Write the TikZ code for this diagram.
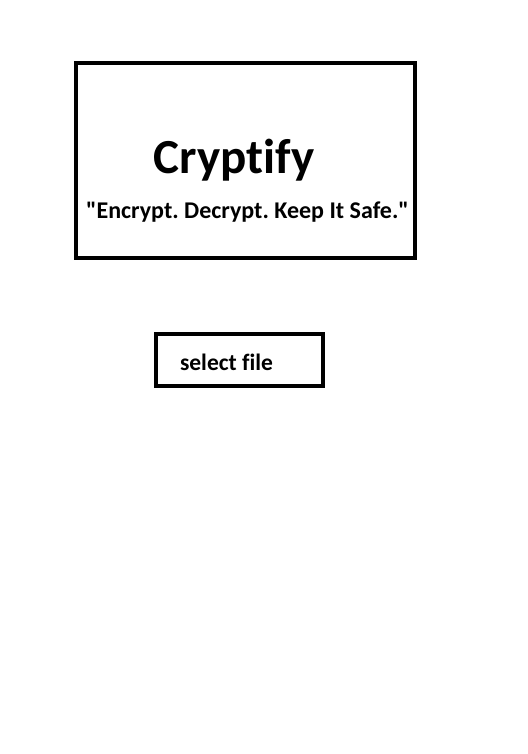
\documentclass[tikz,border=0pt]{standalone}
\usepackage{fontspec}
\setmainfont{Carlito}[Ligatures={TeXOff,NoCommon,NoRequired,NoContextual}]
\frenchspacing
\tikzset{
  panel/.style={draw, line width=4pt, inner sep=0pt},
  title/.style={font=\fontsize{49}{52}\selectfont\bfseries, anchor=base, inner sep=0pt},
  motto/.style={font=\fontsize{24}{27}\selectfont\bfseries, anchor=base, inner sep=0pt},
  btntext/.style={font=\fontsize{23.5}{26}\selectfont\bfseries, anchor=base, inner sep=0pt}
}
\begin{document}
\begin{tikzpicture}[x=1pt, y=-1pt, line join=miter]
	\useasboundingbox (0,0) rectangle (527,754);
	% header box
	\node[panel, minimum width=339pt, minimum height=195pt] (header) at (245,160.5) {};
	\node[title] (name) at (234,173) {Cryptify};
	\node[motto] (slogan) at (247.5,218) {"Encrypt. Decrypt. Keep It Safe."};
	% button
	\node[panel, minimum width=167pt, minimum height=52pt] (select) at (239.5,360) {};
	\node[btntext] (selecttext) at (226.5,370) {select file};
\end{tikzpicture}
\end{document}
